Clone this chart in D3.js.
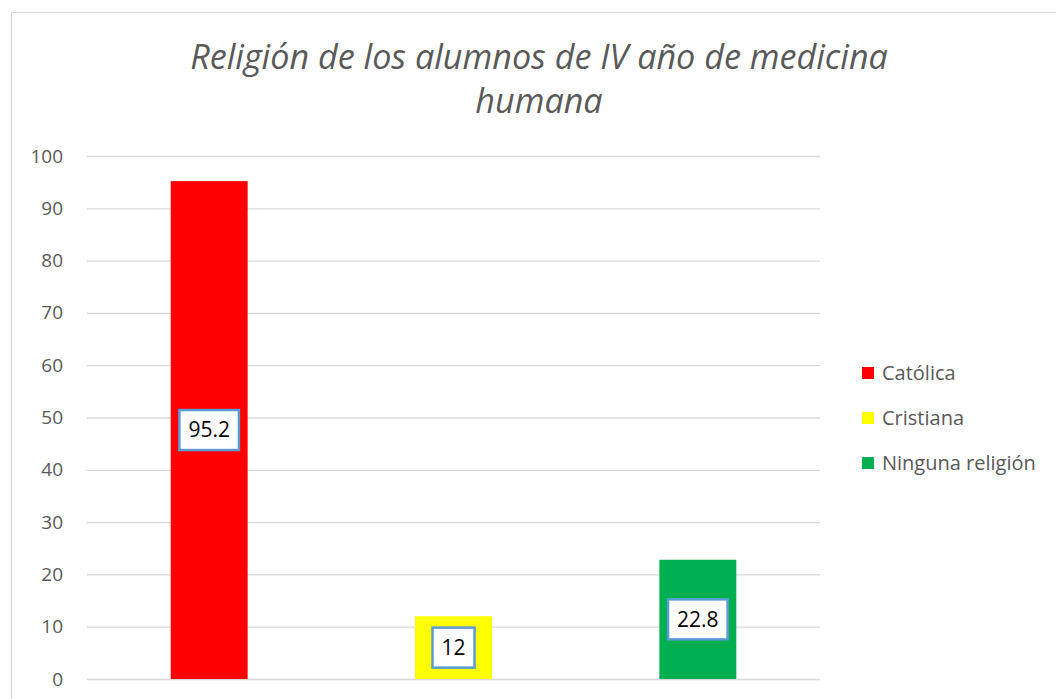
<!DOCTYPE html>
<html>
<head>
<meta charset="utf-8">
<script src="https://cdn.jsdelivr.net/npm/d3@7"></script>
<style>
  body { margin: 0; background: #fff; }
  svg { display: block; font-family: "Open Sans", sans-serif; }
</style>
</head>
<body>
<div id="chart"></div>
<script>
// Religion chart data
const categories = ["Católica", "Cristiana", "Ninguna religión"];
const values = [95.2, 12, 22.8];
const colors = ["#ff0000", "#ffff00", "#00b050"];
const yTicks = [0, 10, 20, 30, 40, 50, 60, 70, 80, 90, 100];
const titleLines = ["Religión de los alumnos de IV año de medicina", "humana"];

const W = 1056, H = 699;
const plot = { left: 87, right: 820, top: 156, bottom: 679 };

const svg = d3.select("#chart").append("svg")
    .attr("width", W)
    .attr("height", H);

// chart frame (runs off the right and bottom edge)
svg.append("rect")
    .attr("x", 11.5).attr("y", 12.5)
    .attr("width", W).attr("height", H)
    .attr("fill", "none")
    .attr("stroke", "#d9d9d9");

const x = d3.scaleBand()
    .domain(categories)
    .range([plot.left, plot.right])
    .paddingInner(0.685)
    .paddingOuter(0.3425);

const y = d3.scaleLinear()
    .domain([0, 100])
    .range([plot.bottom, plot.top]);

// gridlines + labels
const yAxis = d3.axisLeft(y)
    .tickValues(yTicks)
    .tickSize(-(plot.right - plot.left))
    .tickPadding(24);

const yg = svg.append("g")
    .attr("transform", `translate(${plot.left},0)`)
    .call(yAxis);
yg.select(".domain").remove();
yg.selectAll(".tick line").attr("stroke", "#d9d9d9").attr("stroke-width", 1.3);
yg.selectAll(".tick text")
    .style("font-family", "Open Sans, sans-serif")
    .style("font-size", "19px")
    .attr("fill", "#595959");

// bars
svg.selectAll("rect.bar")
    .data(categories)
    .join("rect")
    .attr("class", "bar")
    .attr("x", d => x(d))
    .attr("width", x.bandwidth())
    .attr("y", (d, i) => y(values[i]))
    .attr("height", (d, i) => y(0) - y(values[i]))
    .attr("fill", (d, i) => colors[i]);

// data labels in boxes, centered on bar
const lab = svg.selectAll("g.lab")
    .data(categories)
    .join("g")
    .attr("class", "lab")
    .attr("transform", (d, i) => `translate(${x(d) + x.bandwidth() / 2},${y(values[i] / 2)})`);

lab.append("rect").attr("class", "box");
lab.append("text")
    .attr("text-anchor", "middle")
    .attr("dy", "0.35em")
    .style("font-size", "21px")
    .attr("fill", "#000")
    .text((d, i) => values[i]);

lab.each(function() {
    const g = d3.select(this);
    const tw = g.select("text").node().getComputedTextLength();
    g.select("rect.box")
        .attr("x", -tw / 2 - 9)
        .attr("y", -20)
        .attr("width", tw + 18)
        .attr("height", 40)
        .attr("fill", "#fff")
        .attr("stroke", "#5b9bd5")
        .attr("stroke-width", 2.5);
});

// title
const title = svg.append("g");
title.selectAll("text")
    .data(titleLines)
    .join("text")
    .attr("x", 539)
    .attr("y", (d, i) => 69 + i * 44)
    .attr("text-anchor", "middle")
    .style("font-style", "italic")
    .style("font-size", "30px")
    .attr("fill", "#595959")
    .text(d => d);
// fit first line to the reference width
const firstW = title.select("text").node().getComputedTextLength();
const fs = 30 * 698 / firstW;
title.selectAll("text").style("font-size", fs + "px");

// legend
const legend = svg.selectAll("g.leg")
    .data(categories)
    .join("g")
    .attr("class", "leg")
    .attr("transform", (d, i) => `translate(862,${373 + i * 45})`);
legend.append("rect")
    .attr("x", 0).attr("y", -6)
    .attr("width", 12).attr("height", 12)
    .attr("fill", (d, i) => colors[i]);
legend.append("text")
    .attr("x", 20)
    .attr("dy", "0.35em")
    .style("font-size", "20px")
    .attr("fill", "#595959")
    .text(d => d);
</script>
</body>
</html>
